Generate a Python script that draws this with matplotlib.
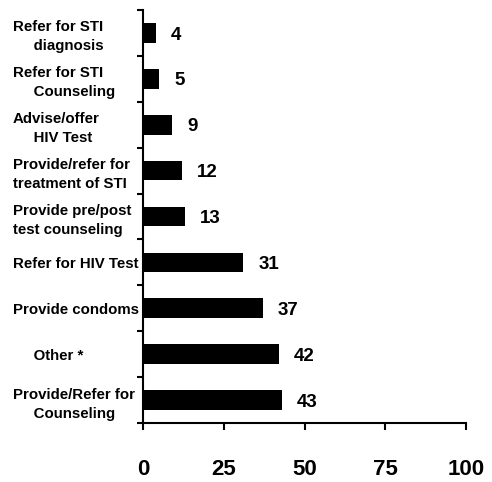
import matplotlib
matplotlib.use("Agg")
import matplotlib.pyplot as plt
import numpy as np

plt.rcParams['font.family'] = ['Liberation Sans', 'DejaVu Sans']
plt.rcParams['font.weight'] = 'bold'

categories = [
    "Refer for STI\n     diagnosis",
    "Refer for STI\n     Counseling",
    "Advise/offer\n     HIV Test",
    "Provide/refer for\ntreatment of STI",
    "Provide pre/post\ntest counseling",
    "Refer for HIV Test",
    "Provide condoms",
    "     Other *",
    "Provide/Refer for\n     Counseling",
]
values = [4, 5, 9, 12, 13, 31, 37, 42, 43]
x_ticks = [0, 25, 50, 75, 100]

fig = plt.figure(figsize=(4.92, 4.82), dpi=100)
ax = fig.add_axes([143/492, 1 - 423/482, (466 - 143)/492, (423 - 10)/482])

y = np.arange(len(categories))
ax.barh(y, values, height=0.43, color='black')
ax.set_ylim(len(categories) - 0.5, -0.5)
ax.set_xlim(0, 100)

for yi, v in zip(y, values):
    ax.annotate(str(v), (v, yi), xytext=(11, -1.5), textcoords='offset points',
                ha='left', va='center', fontsize=13.5, fontweight='bold')

# Category labels (left aligned at fixed figure x)
ax.set_yticks(y)
ax.set_yticklabels(categories, ha='left', fontsize=10.8, fontweight='bold', linespacing=1.45)
pad_pts = (143 - 13) * 72 / 100
ax.tick_params(axis='y', which='major', length=0, pad=pad_pts)
ax.set_yticks(np.arange(-0.5, len(categories) + 0.5, 1), minor=True)
ax.tick_params(axis='y', which='minor', length=4, width=1.5, direction='out')

ax.set_xticks(x_ticks)
ax.set_xticklabels([str(t) for t in x_ticks], fontsize=16, fontweight='bold')
ax.tick_params(axis='x', length=5, width=1.5, direction='out', pad=21)

for s in ['top', 'right']:
    ax.spines[s].set_visible(False)
for s in ['left', 'bottom']:
    ax.spines[s].set_linewidth(1.5)

fig.savefig('out.png', dpi=100)
